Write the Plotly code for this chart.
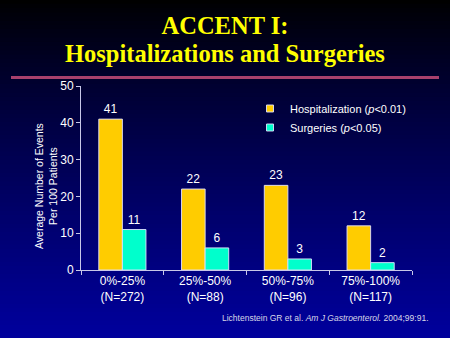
import plotly.graph_objects as go

categories = ["0%-25%<br>(N=272)", "25%-50%<br>(N=88)", "50%-75%<br>(N=96)", "75%-100%<br>(N=117)"]
hospitalization = [41, 22, 23, 12]
surgeries = [11, 6, 3, 2]
series_names = ["Hospitalization (<i>p</i>&lt;0.01)", "Surgeries (<i>p</i>&lt;0.05)"]
series_colors = ["#FFCC00", "#00FFCC"]
title_lines = ["ACCENT I:", "Hospitalizations and Surgeries"]

W, H = 450, 338
L, R, T, B = 81, 38, 86, 68
PW, PH = W - L - R, H - T - B


def px_x(px):
    return (px - L) / PW


def px_y(py):
    return (H - B - py) / PH


fig = go.Figure()
for vals, name, col in zip([hospitalization, surgeries], series_names, series_colors):
    fig.add_trace(go.Bar(
        x=categories, y=vals, name=name, showlegend=False, legendgroup=name,
        marker=dict(color=col, line=dict(color="rgba(225,225,255,0.9)", width=1)),
        text=vals, textposition="outside",
        textfont=dict(color="white", size=12, family="Liberation Sans"),
        cliponaxis=False,
    ))
for name, col in zip(series_names, series_colors):
    fig.add_trace(go.Scatter(
        x=[None], y=[None], mode="markers", name=name, legendgroup=name,
        marker=dict(symbol="square", size=7, color=col,
                    line=dict(color="rgba(225,225,255,0.9)", width=1)),
    ))

shapes = []
N = 80
for i in range(N):
    t = i / (N - 1)
    b = int(round(156 * min(1.0, t ** 0.85)))
    shapes.append(dict(
        type="rect", xref="paper", yref="paper", layer="below",
        x0=px_x(-2), x1=px_x(W + 2),
        y0=px_y(i * H / N - 0.5), y1=px_y((i + 1) * H / N + 0.5),
        line=dict(width=0), fillcolor=f"rgb(0,0,{b})",
    ))
shapes.append(dict(
    type="line", xref="paper", yref="paper",
    x0=px_x(11), x1=px_x(439), y0=px_y(77.5), y1=px_y(77.5),
    line=dict(color="#A8406C", width=3),
))

title_text = "<br>".join(
    f"<span style='font-size:24.5px'><b>{t}</b></span>" for t in title_lines)

annotations = [
    dict(text=title_text, xref="paper", yref="paper",
         x=px_x(225), y=px_y(39.5), xanchor="center", yanchor="middle", showarrow=False,
         font=dict(family="Liberation Serif", size=21.4, color="#FFFF00")),
    dict(text="Average Number of Events<br>Per 100 Patients", xref="paper", yref="paper",
         x=px_x(46), y=px_y(186), xanchor="center", yanchor="middle",
         showarrow=False, textangle=-90,
         font=dict(family="Liberation Sans", size=10.5, color="white")),
    dict(text="Lichtenstein GR et al. <i>Am J Gastroenterol.</i> 2004;99:91.",
         xref="paper", yref="paper", x=px_x(431), y=px_y(318),
         xanchor="right", yanchor="middle", showarrow=False,
         font=dict(family="Liberation Sans", size=8.5, color="#D8D8E8")),
]

fig.update_layout(
    width=W, height=H,
    margin=dict(l=L, r=R, t=T, b=B, pad=0),
    paper_bgcolor="#00009C", plot_bgcolor="rgba(0,0,0,0)",
    barmode="group", bargap=0.43, bargroupgap=0,
    font=dict(family="Liberation Sans", color="white", size=12),
    showlegend=True,
    legend=dict(x=px_x(250), y=px_y(94), xanchor="left", yanchor="top",
                bgcolor="rgba(0,0,0,0)", font=dict(size=11, color="white"),
                itemwidth=30, tracegroupgap=0),
    shapes=shapes, annotations=annotations,
    xaxis=dict(showline=True, linecolor="#C8C8E8", linewidth=1,
               ticks="outside", tickson="boundaries", ticklen=4, tickcolor="#C8C8E8",
               tickfont=dict(size=12, color="white"), showgrid=False),
    yaxis=dict(range=[0, 50], dtick=10, showline=True, linecolor="#C8C8E8", linewidth=1,
               ticks="outside", ticklen=4, tickcolor="#C8C8E8",
               tickfont=dict(size=12, color="white"), showgrid=False, zeroline=False),
)

fig.write_html("out.html")
